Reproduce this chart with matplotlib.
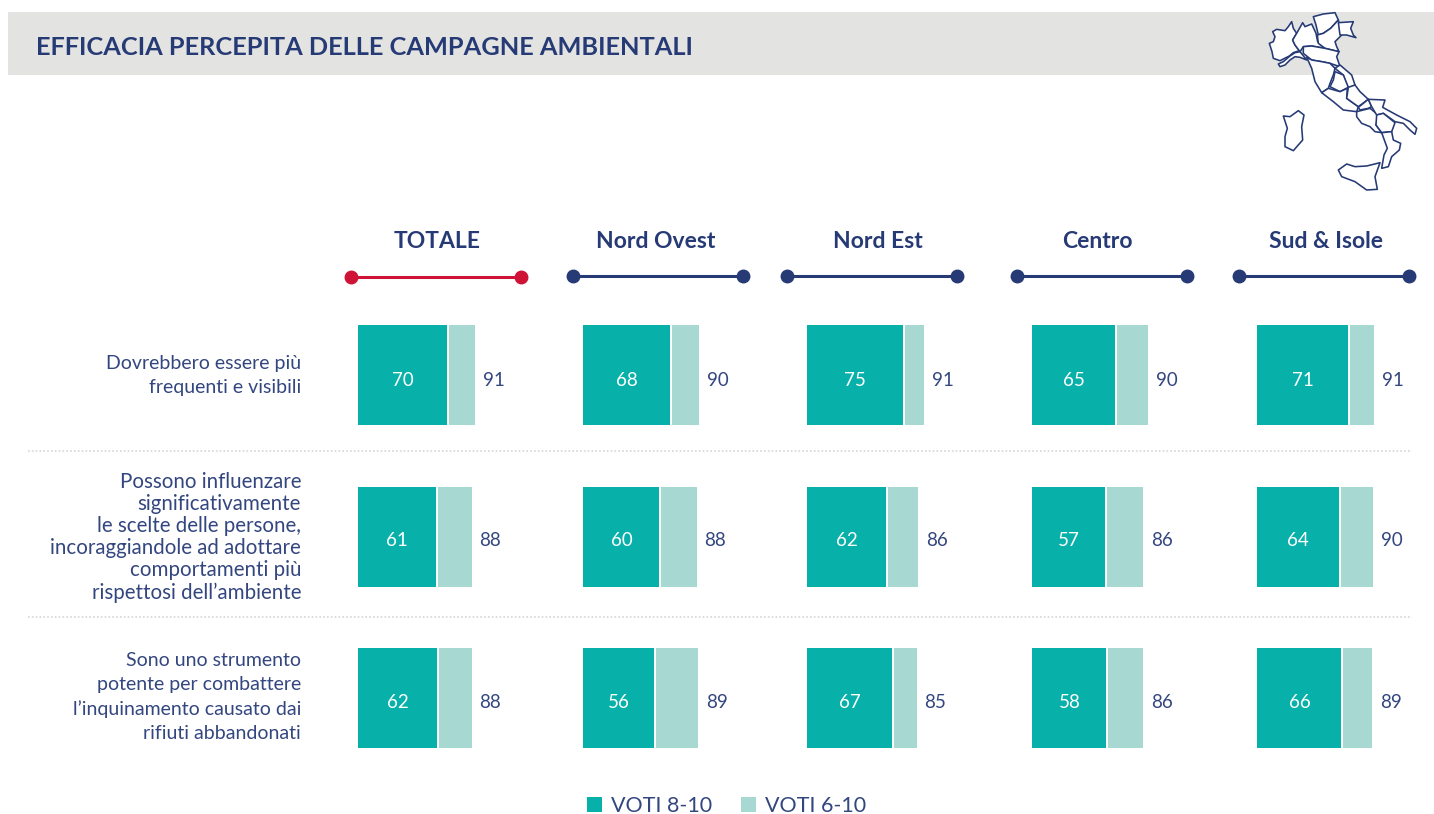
import matplotlib
matplotlib.use("Agg")
import matplotlib.pyplot as plt
from matplotlib.patches import Patch, Polygon, Rectangle
from matplotlib import font_manager as fm

FONT = "Lato"
NAVY = "#263A75"
TEAL = "#07B0A8"
LIGHT = "#A7D8D2"
RED = "#CE1337"
BAND = "#E3E3E1"

title = "EFFICACIA PERCEPITA DELLE CAMPAGNE AMBIENTALI"
columns = ["TOTALE", "Nord Ovest", "Nord Est", "Centro", "Sud & Isole"]
statements = [
    "Dovrebbero essere più\nfrequenti e visibili",
    "Possono influenzare\nsignificativamente\nle scelte delle persone,\nincoraggiandole ad adottare\ncomportamenti più\nrispettosi dell’ambiente",
    "Sono uno strumento\npotente per combattere\nl’inquinamento causato dai\nrifiuti abbandonati",
]
voti_8_10 = [
    [70, 68, 75, 65, 71],
    [61, 60, 62, 57, 64],
    [62, 56, 67, 58, 66],
]
voti_6_10 = [
    [91, 90, 91, 90, 91],
    [88, 88, 86, 86, 90],
    [88, 89, 85, 86, 89],
]
legend_labels = ["VOTI 8-10", "VOTI 6-10"]

W, H = 1434, 814
fig = plt.figure(figsize=(W / 100, H / 100), dpi=100, facecolor="white")

def px_axes(x, y, w, h, **kw):
    return fig.add_axes([x / W, 1 - (y + h) / H, w / W, h / H], **kw)

page = px_axes(0, 0, W, H)
page.set_xlim(0, W); page.set_ylim(H, 0); page.axis("off")
page.add_patch(Rectangle((8, 12), W - 8, 63, fc=BAND, ec="none"))
page.text(36, 47.5, title, color=NAVY, fontsize=18.3, fontweight="bold", family=FONT, va="center", ha="left")

col_left = [358, 583, 807, 1032, 1257]
col_center = [437, 656, 878, 1097, 1326]
rule_span = [(351, 521), (573, 743), (787, 957), (1017, 1187), (1239, 1409)]
rule_y = [277, 276, 276, 276, 276]
for i, name in enumerate(columns):
    page.text(col_center[i], 241.5, name, color=NAVY, fontsize=16.5, fontweight="bold", family=FONT, ha="center", va="center")
    c = RED if i == 0 else NAVY
    page.plot(rule_span[i], [rule_y[i]] * 2, color=c, lw=2.2, marker="o", ms=9, solid_capstyle="butt")

row_top = [325, 487, 648]
row_text_y = [375.5, 537.5, 697]
row_spacing = [1.5, 1.12, 1.5]
row_size = [14, 14.8, 14]
for y in (451, 617):
    page.plot([28, 1412], [y, y], color="#D5D5D5", lw=1.2, ls=(0, (1, 1.3)))
for r, s in enumerate(statements):
    page.text(301, row_text_y[r], s, color="#33467F", fontsize=row_size[r], family=FONT, ha="right", va="center",
              linespacing=row_spacing[r])

PX_PER_UNIT = 1.29
PANEL_W = 100 * PX_PER_UNIT
BAR_H = 100
label_drop = [-4, -2.5, -3.2]
for r in range(3):
    for c in range(5):
        ax = px_axes(col_left[c], row_top[r], PANEL_W, BAR_H)
        ax.set_xlim(0, 100); ax.set_ylim(-0.5, 0.5); ax.axis("off")
        a, b = voti_8_10[r][c], voti_6_10[r][c]
        ax.barh(0, a, height=1, color=TEAL, lw=0)
        ax.barh(0, b - a, left=a, height=1, color=LIGHT, lw=0)
        ax.plot([a, a], [-0.5, 0.5], color="white", lw=1.4, solid_capstyle="butt")
        ax.annotate(str(a), (a / 2, 0), xytext=(0, label_drop[r]), textcoords="offset points", color="white",
                    fontsize=13.5, family=FONT, ha="center", va="center")
        ax.annotate(str(b), (b, 0), xytext=(13.5, label_drop[r]), textcoords="offset points", color="#33467F",
                    fontsize=13.5, family=FONT, ha="center", va="center")

handles = [Patch(fc=TEAL, ec="none"), Patch(fc=LIGHT, ec="none")]
fig.legend(handles, legend_labels, loc="center", bbox_to_anchor=(726.5 / W, 1 - 806 / H), ncol=2, frameon=False,
           prop=fm.FontProperties(family=FONT, size=15.5), labelcolor="#33467F",
           handlelength=0.7, handleheight=0.7, handletextpad=0.42, columnspacing=1.35, borderpad=0, borderaxespad=0)

regions = [
    [(98,95),(110,88),(135,92),(145,80),(155,65),(160,85),(170,100),(158,120),(165,135),(178,152),(160,158),(148,168),(120,182),(100,175),(96,155),(88,130),(100,125),(105,110)],
    [(115,192),(130,185),(150,168),(165,158),(180,155),(200,180),(180,172),(165,170),(150,180),(135,195),(120,200)],
    [(170,100),(188,68),(195,80),(215,72),(228,100),(233,125),(255,145),(215,138),(190,140),(180,155),(165,135),(158,120)],
    [(220,50),(250,42),(285,38),(295,60),(272,85),(250,100),(235,105),(228,75)],
    [(295,60),(305,105),(285,125),(290,140),(297,155),(255,145),(235,130),(232,105),(250,100),(272,85)],
    [(295,68),(340,65),(332,85),(340,105),(348,113),(320,105),(300,105)],
    [(190,140),(215,138),(255,145),(297,155),(290,170),(300,200),(270,190),(245,185),(215,180),(190,160)],
    [(200,172),(215,180),(245,185),(270,190),(285,205),(280,225),(270,250),(265,265),(245,278),(225,245),(215,205)],
    [(285,205),(300,195),(335,225),(345,255),(325,265),(315,240),(310,225)],
    [(285,215),(310,225),(325,262),(300,275),(270,260),(280,240)],
    [(245,278),(265,265),(300,275),(322,265),(320,295),(355,320),(350,335),(310,330),(280,305)],
    [(325,262),(345,255),(360,275),(385,298),(355,320),(320,295)],
    [(355,322),(385,298),(395,320),(385,325),(360,330)],
    [(350,335),(390,325),(415,345),(408,375),(425,398),(405,395),(390,380),(365,370),(350,350)],
    [(385,298),(435,300),(428,322),(470,345),(510,365),(530,385),(525,403),(510,390),(490,370),(465,365),(430,340),(410,345),(395,320)],
    [(410,345),(430,340),(465,368),(455,395),(425,398),(408,375)],
    [(425,398),(455,395),(460,420),(482,430),(478,450),(455,470),(445,500),(425,505),(432,465),(442,445)],
    [(295,510),(320,492),(345,500),(380,498),(420,488),(405,530),(412,568),(380,570),(345,545),(305,530)],
    [(130,348),(150,350),(175,332),(192,345),(185,380),(188,420),(160,452),(135,440),(135,410),(142,385)],
]
mp = px_axes(1240, 0, 194, 200)
mp.set_xlim(0, 582); mp.set_ylim(600, 0); mp.axis("off"); mp.patch.set_alpha(0)
for reg in regions:
    mp.add_patch(Polygon(reg, closed=True, fc="white", ec=NAVY, lw=1.15, joinstyle="round"))

fig.savefig("out.png", dpi=100, facecolor="white")
